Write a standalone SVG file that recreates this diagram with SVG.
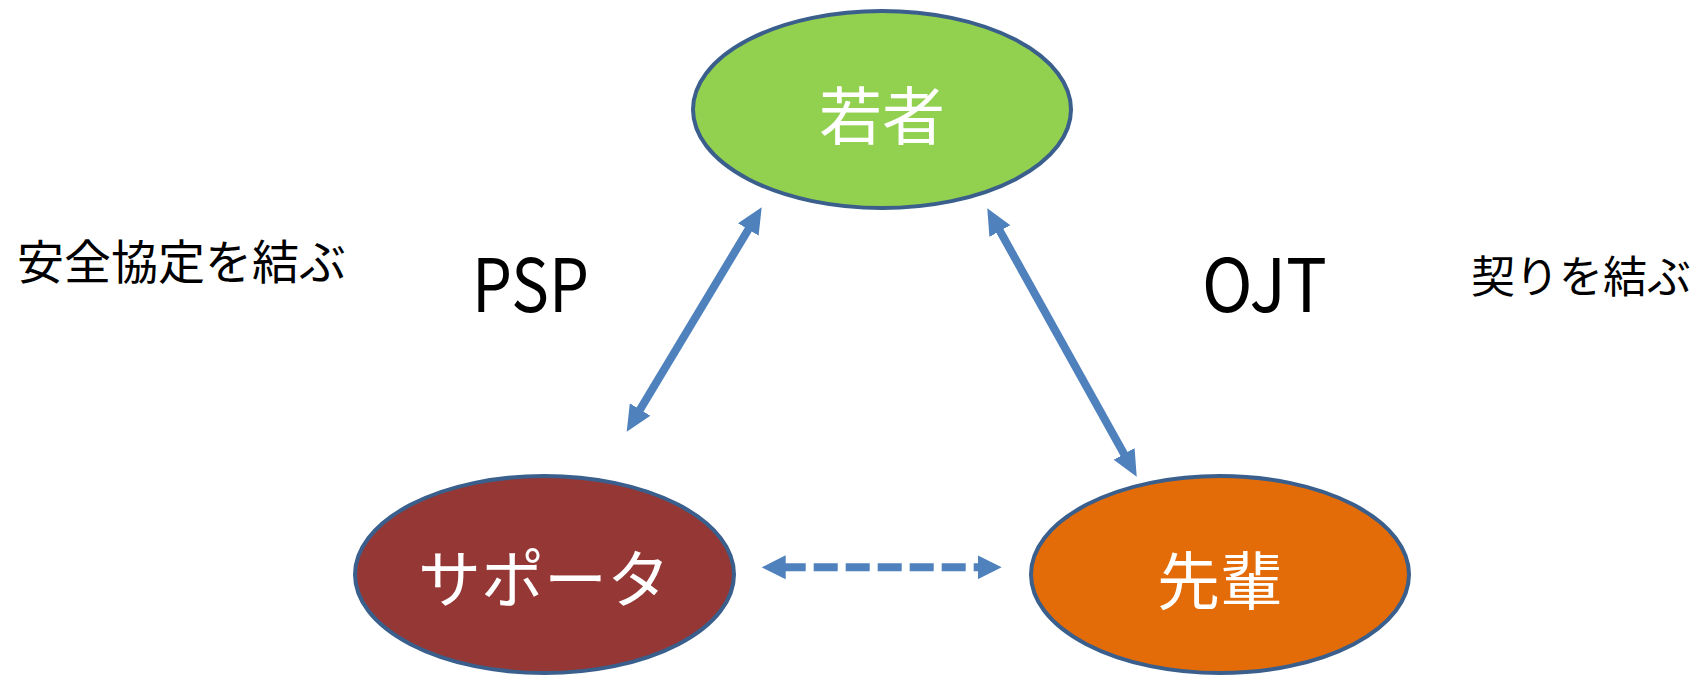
<svg xmlns="http://www.w3.org/2000/svg" width="1702" height="678" viewBox="0 0 1702 678">
<style>
.node ellipse{stroke:#3A5F8C;stroke-width:4}
.lbl{font-family:"Noto Sans CJK JP","Liberation Sans",sans-serif;fill:#FFFFFF;font-size:63px;text-anchor:middle}
.txt{font-family:"Noto Sans CJK JP","Liberation Sans",sans-serif;fill:#000000}
.conn{stroke:#4F81BD;stroke-width:8;fill:none}
</style>
<defs>
<marker id="ah" markerUnits="userSpaceOnUse" markerWidth="26" markerHeight="24" viewBox="0 0 26 24" refX="6" refY="12" orient="auto-start-reverse">
<path d="M0,0 L26,12 L0,24 z" fill="#4F81BD"/>
</marker>
<marker id="ahd" markerUnits="userSpaceOnUse" markerWidth="24" markerHeight="24" viewBox="0 0 24 24" refX="4" refY="12" orient="auto-start-reverse">
<path d="M0,0 L24,12 L0,24 z" fill="#4F81BD"/>
</marker>
</defs>
<g id="connectors">
<line class="conn" x1="637.0" y1="414.6" x2="751.4" y2="224.4" marker-start="url(#ah)" marker-end="url(#ah)"/>
<line class="conn" x1="997.0" y1="225.8" x2="1127.0" y2="459.2" marker-start="url(#ah)" marker-end="url(#ah)"/>
<line class="conn" x1="781.7" y1="567.3" x2="981.7" y2="567.3" stroke-dasharray="24 8" marker-start="url(#ahd)" marker-end="url(#ahd)"/>
</g>
<g id="node-wakamono" class="node">
<ellipse cx="882" cy="109.5" rx="189" ry="98.5" fill="#92D050"/>
<text class="lbl" x="882" y="139">若者</text>
</g>
<g id="node-supporter" class="node">
<ellipse cx="544.5" cy="574.5" rx="189.5" ry="98.5" fill="#953735"/>
<text class="lbl" x="544" y="602">サポータ</text>
</g>
<g id="node-senpai" class="node">
<ellipse cx="1220" cy="574.5" rx="189" ry="98.5" fill="#E36C09"/>
<text class="lbl" x="1220" y="604">先輩</text>
</g>
<g id="labels">
<text class="txt" x="17" y="279" font-size="47">安全協定を結ぶ</text>
<text class="txt" x="472" y="312" font-size="74" textLength="117" lengthAdjust="spacingAndGlyphs">PSP</text>
<text class="txt" x="1202" y="312" font-size="74" textLength="125" lengthAdjust="spacingAndGlyphs">OJT</text>
<text class="txt" x="1471" y="293" font-size="44">契りを結ぶ</text>
</g>
</svg>
